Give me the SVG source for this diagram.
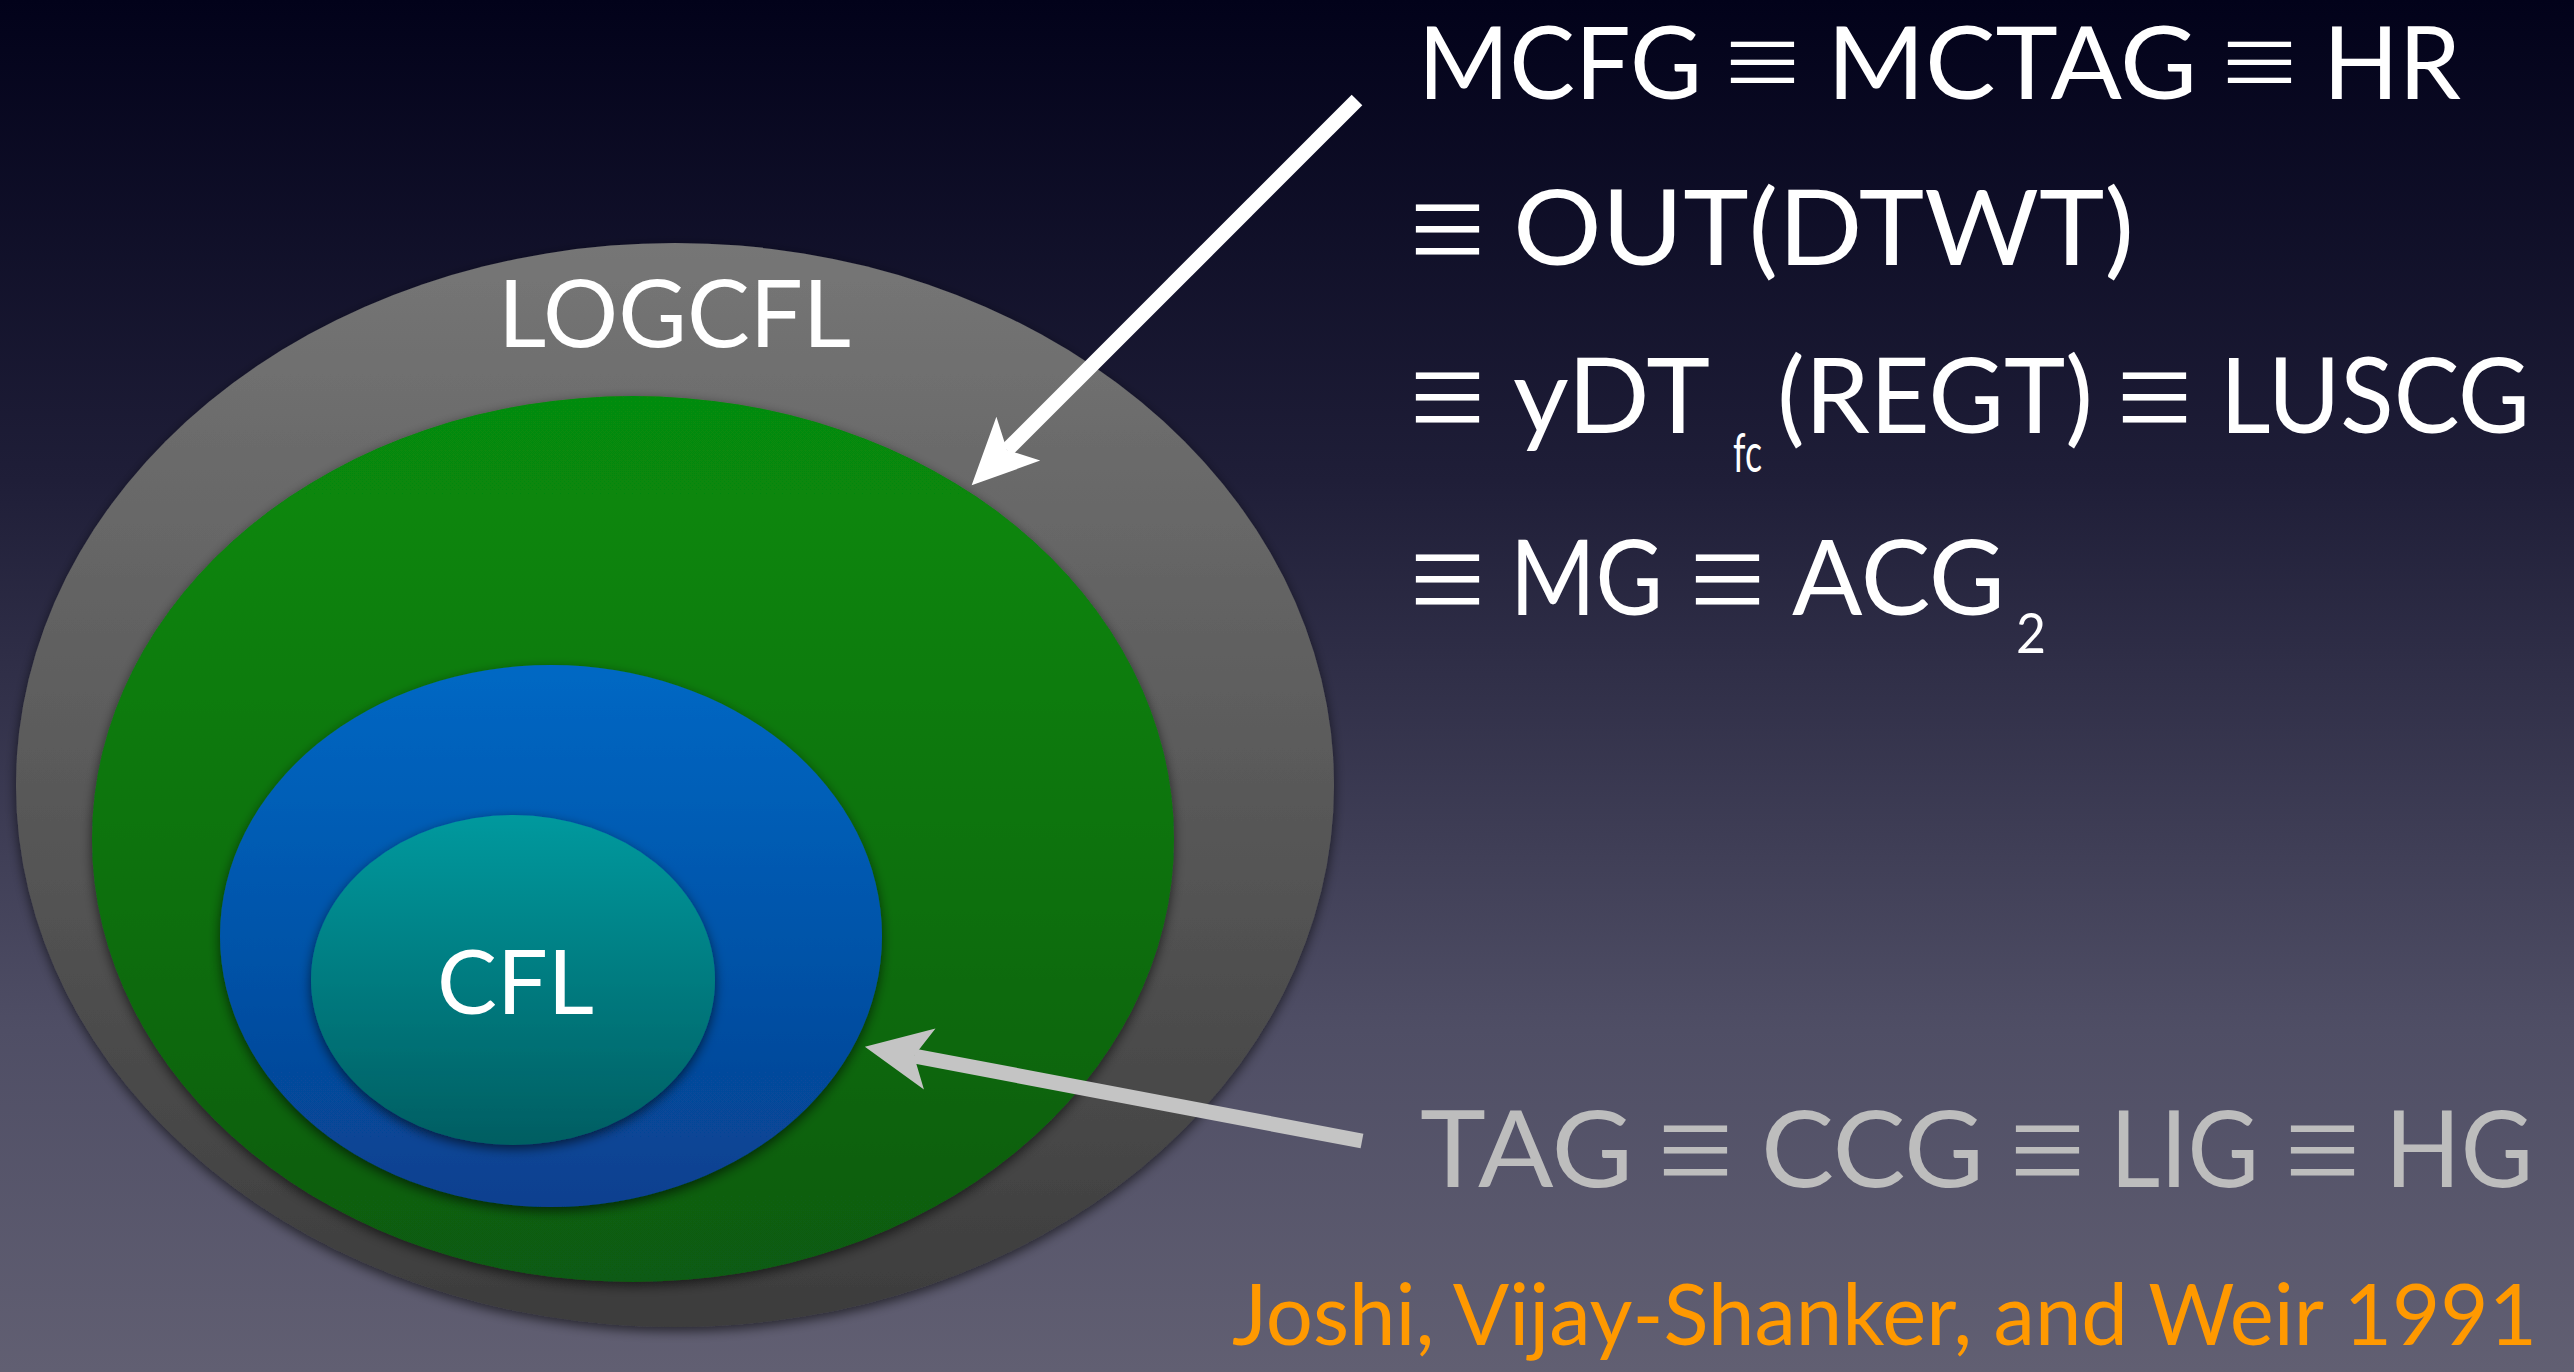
<svg xmlns="http://www.w3.org/2000/svg" width="2574" height="1372" viewBox="0 0 2574 1372">
  <defs>
    <linearGradient id="bg" x1="0" y1="0" x2="0" y2="1">
      <stop offset="0" stop-color="#02021a"/>
      <stop offset="0.35" stop-color="#1f1e38"/>
      <stop offset="0.75" stop-color="#4f4e65"/>
      <stop offset="1" stop-color="#615f72"/>
    </linearGradient>
    <linearGradient id="fillGray" x1="0" y1="0" x2="0" y2="1">
      <stop offset="0" stop-color="#767676"/>
      <stop offset="1" stop-color="#3c3c3c"/>
    </linearGradient>
    <linearGradient id="fillGreen" x1="0" y1="0" x2="0" y2="1">
      <stop offset="0" stop-color="#068c08"/>
      <stop offset="1" stop-color="#0f5a12"/>
    </linearGradient>
    <linearGradient id="fillBlue" x1="0" y1="0" x2="0" y2="1">
      <stop offset="0" stop-color="#0068c4"/>
      <stop offset="1" stop-color="#08408f"/>
    </linearGradient>
    <linearGradient id="fillTeal" x1="0" y1="0" x2="0" y2="1">
      <stop offset="0" stop-color="#00999e"/>
      <stop offset="1" stop-color="#005e62"/>
    </linearGradient>
    <filter id="shadow" x="-10%" y="-10%" width="120%" height="125%">
      <feDropShadow dx="0" dy="4" stdDeviation="6" flood-color="#000" flood-opacity="0.6"/>
    </filter>
    <marker id="headWhite" markerUnits="userSpaceOnUse" viewBox="-20 -35 75 70" markerWidth="75" markerHeight="70" refX="0" refY="0" orient="auto">
      <path d="M50,0 L-16,-31 L0,0 L-16,31 Z" fill="#ffffff"/>
    </marker>
    <marker id="headGray" markerUnits="userSpaceOnUse" viewBox="-20 -35 75 70" markerWidth="75" markerHeight="70" refX="0" refY="0" orient="auto">
      <path d="M50,0 L-16,-31 L0,0 L-16,31 Z" fill="#c4c4c4"/>
    </marker>
    <style>
      .sans { font-family: Lato, "Open Sans", "Noto Sans", sans-serif; }
      .eq { font-family: "Noto Sans CJK JP", "DejaVu Sans", sans-serif; font-size: 100px; }
      .eq.top { font-size: 82px; }
      .white { fill: #ffffff; }
      .grey { fill: #bdbdbd; }
      .orange { fill: #ff9900; }
      .region { filter: url(#shadow); }
    </style>
  </defs>

  <!-- background -->
  <rect x="0" y="0" width="2574" height="1372" fill="url(#bg)"/>

  <!-- nested language classes -->
  <g id="logcfl">
    <ellipse class="region" cx="675" cy="785" rx="659" ry="542" fill="url(#fillGray)"/>
    <text class="sans white" x="498" y="347" font-size="93" textLength="353" lengthAdjust="spacingAndGlyphs">LOGCFL</text>
  </g>
  <g id="mcfl">
    <ellipse class="region" cx="633" cy="839" rx="541" ry="443" fill="url(#fillGreen)"/>
  </g>
  <g id="tal">
    <ellipse class="region" cx="551" cy="936" rx="331" ry="271" fill="url(#fillBlue)"/>
  </g>
  <g id="cfl">
    <ellipse class="region" cx="513" cy="980" rx="202" ry="165" fill="url(#fillTeal)"/>
    <text class="sans white" x="437" y="1014" font-size="89" textLength="157" lengthAdjust="spacingAndGlyphs">CFL</text>
  </g>

  <!-- arrows -->
  <g id="connectors" fill="none">
    <line x1="1357" y1="100" x2="1007" y2="450" stroke="#ffffff" stroke-width="15" marker-end="url(#headWhite)"/>
    <line x1="1362" y1="1141" x2="914" y2="1056" stroke="#c4c4c4" stroke-width="15" marker-end="url(#headGray)"/>
  </g>

  <!-- equivalence chain for the green class -->
  <g id="mcfg-equivalences" class="white">
    <text class="sans" x="1418" y="99" font-size="100" textLength="284" lengthAdjust="spacingAndGlyphs">MCFG</text>
    <text class="eq top" x="1719" y="93" textLength="87" lengthAdjust="spacingAndGlyphs">≡</text>
    <text class="sans" x="1827" y="99" font-size="100" textLength="370" lengthAdjust="spacingAndGlyphs">MCTAG</text>
    <text class="eq top" x="2216" y="93" textLength="87" lengthAdjust="spacingAndGlyphs">≡</text>
    <text class="sans" x="2323" y="99" font-size="100" textLength="138" lengthAdjust="spacingAndGlyphs">HR</text>

    <text class="eq" x="1404" y="267" textLength="87" lengthAdjust="spacingAndGlyphs">≡</text>
    <text class="sans" x="1513" y="265" font-size="104" textLength="621" lengthAdjust="spacingAndGlyphs">OUT(DTWT)</text>

    <text class="eq" x="1404" y="435" textLength="87" lengthAdjust="spacingAndGlyphs">≡</text>
    <text class="sans" x="1513" y="433" font-size="104" textLength="197" lengthAdjust="spacingAndGlyphs">yDT</text>
    <text class="sans" x="1733" y="472" font-size="55" textLength="29" lengthAdjust="spacingAndGlyphs">fc</text>
    <text class="sans" x="1777" y="433" font-size="104" textLength="316" lengthAdjust="spacingAndGlyphs">(REGT)</text>
    <text class="eq" x="2111" y="435" textLength="87" lengthAdjust="spacingAndGlyphs">≡</text>
    <text class="sans" x="2220" y="433" font-size="104" textLength="310" lengthAdjust="spacingAndGlyphs">LUSCG</text>

    <text class="eq" x="1404" y="617" textLength="87" lengthAdjust="spacingAndGlyphs">≡</text>
    <text class="sans" x="1510" y="615" font-size="104" textLength="153" lengthAdjust="spacingAndGlyphs">MG</text>
    <text class="eq" x="1684" y="617" textLength="87" lengthAdjust="spacingAndGlyphs">≡</text>
    <text class="sans" x="1792" y="615" font-size="104" textLength="213" lengthAdjust="spacingAndGlyphs">ACG</text>
    <text class="sans" x="2016" y="653" font-size="56" textLength="30" lengthAdjust="spacingAndGlyphs">2</text>
  </g>

  <!-- equivalence chain for the blue class -->
  <g id="tag-equivalences" class="grey">
    <text class="sans" x="1420" y="1187" font-size="106" textLength="213" lengthAdjust="spacingAndGlyphs">TAG</text>
    <text class="eq" x="1652" y="1188" textLength="87" lengthAdjust="spacingAndGlyphs">≡</text>
    <text class="sans" x="1761" y="1187" font-size="106" textLength="223" lengthAdjust="spacingAndGlyphs">CCG</text>
    <text class="eq" x="2004" y="1188" textLength="87" lengthAdjust="spacingAndGlyphs">≡</text>
    <text class="sans" x="2110" y="1187" font-size="106" textLength="149" lengthAdjust="spacingAndGlyphs">LIG</text>
    <text class="eq" x="2279" y="1188" textLength="87" lengthAdjust="spacingAndGlyphs">≡</text>
    <text class="sans" x="2385" y="1187" font-size="106" textLength="148" lengthAdjust="spacingAndGlyphs">HG</text>
  </g>

  <!-- citation -->
  <g id="citation">
    <text class="sans orange" x="1232" y="1345" font-size="86" textLength="1305" lengthAdjust="spacingAndGlyphs">Joshi, Vijay-Shanker, and Weir 1991</text>
  </g>
</svg>
